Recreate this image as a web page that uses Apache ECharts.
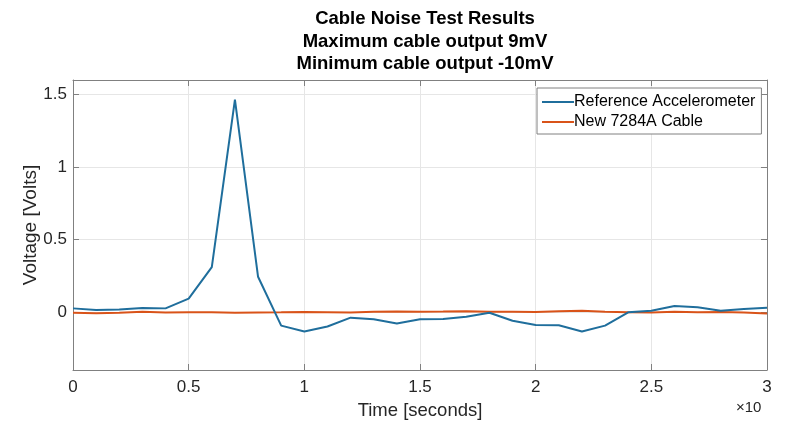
<!DOCTYPE html>
<html><head><meta charset="utf-8">
<script src="https://cdn.jsdelivr.net/npm/echarts@6/dist/echarts.min.js"></script>
<style>html,body{margin:0;padding:0;background:#fff}#c{width:787px;height:425px}</style>
</head><body><div id="c"></div>
<script>
const times = [0,0.1,0.2,0.3,0.4,0.5,0.6,0.7,0.8,0.9,1.0,1.1,1.2,1.3,1.4,1.5,1.6,1.7,1.8,1.9,2.0,2.1,2.2,2.3,2.4,2.5,2.6,2.7,2.8,2.9,3.0];
const referenceAccel = [0.025,0.013,0.018,0.027,0.025,0.092,0.31,1.464,0.243,-0.094,-0.135,-0.10,-0.039,-0.05,-0.08,-0.05,-0.048,-0.032,-0.005,-0.06,-0.09,-0.092,-0.135,-0.094,-0.002,0.009,0.041,0.032,0.009,0.02,0.03];
const newCable = [-0.005,-0.008,-0.006,0.002,-0.003,-0.002,-0.001,-0.006,-0.003,-0.002,0.0,-0.002,-0.004,0.002,0.003,0.001,0.003,0.006,0.002,0.001,0.0,0.005,0.009,0.002,-0.001,-0.003,0.001,-0.002,0.0,-0.004,-0.010];
const xTicks = [0,0.5,1,1.5,2,2.5,3];
const yTicks = [0,0.5,1,1.5];
const titleLines = ['Cable Noise Test Results','Maximum cable output 9mV','Minimum cable output -10mV'];
const seriesNames = ['Reference Accelerometer','New 7284A Cable'];

const pair = (xs, ys) => xs.map((x, i) => [x, ys[i]]);
const axisCol = '#808080';
const txtCol = '#262626';
const font = '"Liberation Sans", Arial, sans-serif';

const chart = echarts.init(document.getElementById('c'), null, {renderer: 'canvas'});
const baseX = {
  type: 'value', min: 0, max: 3,
  axisLine: {show: true, onZero: false, lineStyle: {color: axisCol, width: 1}},
  axisTick: {show: true, inside: true, length: 6, customValues: xTicks, lineStyle: {color: axisCol}},
  splitLine: {show: false},
};
const baseY = {
  type: 'value', min: -0.4, max: 1.6,
  axisLine: {show: true, onZero: false, lineStyle: {color: axisCol, width: 1}},
  axisTick: {show: true, inside: true, length: 6, customValues: yTicks, lineStyle: {color: axisCol}},
  splitLine: {show: false},
};
chart.setOption({
  animation: false,
  backgroundColor: '#fff',
  title: {
    text: titleLines.join('\n'),
    left: 420, textAlign: 'center', top: 3,
    textStyle: {fontFamily: font, fontSize: 18.5, fontWeight: 'bold', color: '#000', lineHeight: 22.5}
  },
  legend: {
    left: 537, top: 88, orient: 'vertical',
    data: seriesNames,
    itemWidth: 32, itemHeight: 2, itemGap: 4,
    icon: 'rect',
    backgroundColor: '#fff', borderColor: '#808080', borderWidth: 1,
    padding: [6, 6, 4, 5],
    textStyle: {fontFamily: font, fontSize: 16, color: '#000', padding: [0,0,0,-5]}
  },
  grid: {left: 73, right: 20, top: 80, bottom: 55, containLabel: false},
  xAxis: [
    Object.assign({}, baseX, {
      position: 'bottom',
      name: 'Time [seconds]', nameLocation: 'middle', nameGap: 31, nameMoveOverlap: false,
      nameTextStyle: {fontFamily: font, fontSize: 18.5, color: txtCol},
      axisLabel: {show: true, customValues: xTicks, fontFamily: font, fontSize: 17, color: txtCol, margin: 9,
        formatter: v => String(v)},
      splitLine: {show: true, lineStyle: {color: '#e6e6e6', width: 1}}
    }),
    Object.assign({}, baseX, {position: 'top', axisLabel: {show: false}})
  ],
  yAxis: [
    Object.assign({}, baseY, {
      position: 'left',
      name: 'Voltage [Volts]', nameLocation: 'middle', nameGap: 33, nameRotate: 90, nameMoveOverlap: false,
      nameTextStyle: {fontFamily: font, fontSize: 19, color: txtCol},
      axisLabel: {show: true, customValues: yTicks, fontFamily: font, fontSize: 17, color: txtCol, margin: 6,
        formatter: v => String(v)},
      splitLine: {show: true, lineStyle: {color: '#e6e6e6', width: 1}}
    }),
    Object.assign({}, baseY, {position: 'right', axisLabel: {show: false}})
  ],
  graphic: [{
    type: 'text', left: 736, top: 400,
    style: {text: '×10', fontFamily: font, fontSize: 15, fill: txtCol}
  }],
  series: [
    {name: seriesNames[0], type: 'line', data: pair(times, referenceAccel), showSymbol: false,
     lineStyle: {color: '#1f6e9c', width: 2}, itemStyle: {color: '#1f6e9c'}, z: 3},
    {name: seriesNames[1], type: 'line', data: pair(times, newCable), showSymbol: false,
     lineStyle: {color: '#d95319', width: 2}, itemStyle: {color: '#d95319'}, z: 2}
  ]
});
</script></body></html>
